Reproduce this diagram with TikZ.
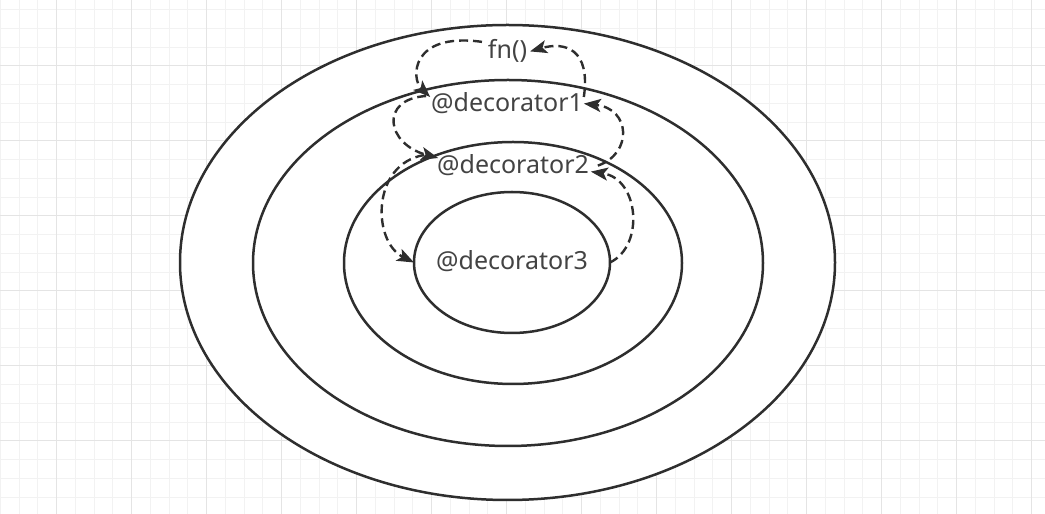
\documentclass[tikz,border=0pt]{standalone}
\usepackage{fontspec}
\setmainfont{Noto Sans}
\usetikzlibrary{shapes.geometric,arrows.meta}
\definecolor{ink}{HTML}{2E2E2E}
\definecolor{gridminor}{HTML}{F2F2F2}
\definecolor{gridmajor}{HTML}{E4E4E4}
\begin{document}
\begin{tikzpicture}[x=1pt,y=1pt,
  ring/.style={ellipse,draw=ink,line width=2.5pt,fill=white,inner sep=0pt,outer sep=0pt},
  txt/.style={inner sep=0pt,outer sep=0pt,text=ink!90,font=\fontsize{25}{30}\selectfont,anchor=base},
  flow/.style={draw=ink,line width=2.4pt,dash pattern=on 9pt off 5pt,-{Stealth[length=17pt,width=13pt,inset=4pt]}}
]
\useasboundingbox (0,0) rectangle (1045,514);
\fill[white] (0,0) rectangle (1045,514);
\foreach \i in {0,...,56} \draw[gridminor,line width=1pt] ({0.45+18.75*\i},0) -- ({0.45+18.75*\i},514);
\foreach \j in {0,...,28} \draw[gridminor,line width=1pt] (0,{523-18.75*\j}) -- (1045,{523-18.75*\j});
\foreach \k in {0,...,13} \draw[gridmajor,line width=1pt] ({56.7+75*\k},0) -- ({56.7+75*\k},514);
\foreach \k in {0,...,7} \draw[gridmajor,line width=1pt] (0,{523-75*\k}) -- (1045,{523-75*\k});

\node[ring,minimum width=655pt,minimum height=475pt] (e1) at (507.5,251.5) {};
\node[ring,minimum width=510pt,minimum height=366pt] (e2) at (508,251) {};
\node[ring,minimum width=338pt,minimum height=242pt] (e3) at (513,251) {};
\node[ring,minimum width=196pt,minimum height=141pt] (e4) at (512,251.5) {};

\node[txt] (fn) at (507.5,455) {fn()};
\node[txt] (d1) at (507,402) {@decorator1};
\node[txt] (d2) at (513,340) {@decorator2};
\node[txt] (d3) at (512,244) {@decorator3};

\draw[flow] ([xshift=-6pt,yshift=-2pt]fn.north west) .. controls +(-72,10) and +(-19,18) .. ([xshift=-1pt,yshift=-4pt]d1.north west);
\draw[flow] ([xshift=1pt,yshift=-4pt]d1.north east) .. controls +(7,48) and +(35,10) .. ([xshift=3pt]fn.east);
\draw[flow] ([xshift=-5pt,yshift=-3pt]d1.north west) .. controls +(-47,-3) and +(-52,14) .. ([xshift=1pt,yshift=-3pt]d2.north west);
\draw[flow] ([xshift=9pt]d2.east) .. controls +(35,12) and +(47,-5) .. ([xshift=1pt]d1.east);
\draw[flow] ([xshift=-13pt]d2.north west) .. controls +(-53,-9) and +(-42,21) .. (e4.west);
\draw[flow] (e4.east) .. controls +(35,17) and +(48,-7) .. ([xshift=2pt,yshift=-6pt]d2.east);
\end{tikzpicture}
\end{document}
